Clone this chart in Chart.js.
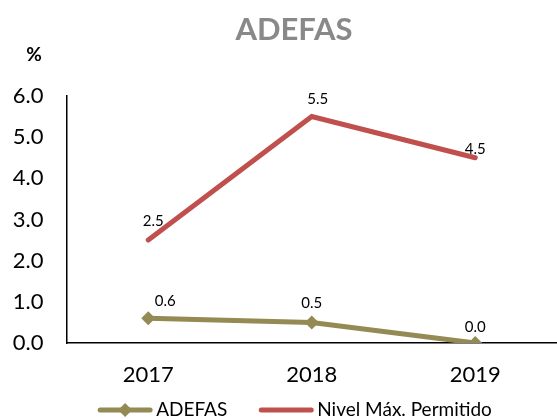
<!DOCTYPE html>
<html><head><meta charset="utf-8">
<script src="https://cdn.jsdelivr.net/npm/chart.js@4"></script>
<style>html,body{margin:0;padding:0;background:#fff;overflow:hidden}#wrap{width:557px;height:419px}</style>
</head><body><div id="wrap"><canvas id="c"></canvas></div>
<script>
const categories = ['2017', '2018', '2019'];
const adefasValues = [0.6, 0.5, 0.0];
const nivelValues = [2.5, 5.5, 4.5];
const seriesNames = ['ADEFAS', 'Nivel Máx. Permitido'];
const chartTitle = 'ADEFAS';
const unitLabel = '%';

const OLIVE = '#948A54', RED = '#C0504D';
const FONT = 'Lato, "Open Sans", sans-serif';

const extras = {
  id: 'extras',
  afterDraw(chart) {
    const ctx = chart.ctx;
    ctx.save();
    // title
    ctx.fillStyle = '#898989';
    ctx.font = 'bold 31px ' + FONT;
    ctx.textAlign = 'center'; ctx.textBaseline = 'middle';
    ctx.fillText(chartTitle, 294, 30);
    // unit
    ctx.fillStyle = '#000';
    ctx.font = 'bold 19px ' + FONT;
    ctx.fillText(unitLabel, 34, 55);
    // data labels
    ctx.font = '15px ' + FONT;
    chart.data.datasets.forEach((ds, di) => {
      const meta = chart.getDatasetMeta(di);
      meta.data.forEach((pt, i) => {
        const off = ds.labelOffsets[i];
        ctx.fillText(ds.data[i].toFixed(1), pt.x + off[0], pt.y + off[1]);
      });
    });
    // legend
    ctx.font = '19px ' + FONT;
    ctx.textAlign = 'left';
    const iconW = 54, gap = 4, itemGap = 32, cy = 410, cx = 295;
    const widths = chart.data.datasets.map(ds => iconW + gap + ctx.measureText(ds.label).width);
    const total = widths.reduce((a, b) => a + b, 0) + itemGap * (widths.length - 1);
    let x = cx - total / 2;
    chart.data.datasets.forEach((ds, i) => {
      ctx.strokeStyle = ds.borderColor; ctx.lineWidth = 5; ctx.lineCap = 'round';
      ctx.beginPath(); ctx.moveTo(x + 2, cy); ctx.lineTo(x + iconW - 2, cy); ctx.stroke();
      if (ds.pointRadius > 0) {
        const mx = x + iconW / 2, r = ds.pointRadius;
        ctx.fillStyle = ds.borderColor; ctx.beginPath();
        ctx.moveTo(mx, cy - r); ctx.lineTo(mx + r, cy); ctx.lineTo(mx, cy + r); ctx.lineTo(mx - r, cy);
        ctx.closePath(); ctx.fill();
      }
      ctx.fillStyle = '#000';
      ctx.fillText(ds.label, x + iconW + gap, cy);
      x += widths[i] + itemGap;
    });
    ctx.restore();
  }
};

new Chart(document.getElementById('c'), {
  type: 'line',
  data: {
    labels: categories,
    datasets: [
      { label: seriesNames[0], data: adefasValues, borderColor: OLIVE, backgroundColor: OLIVE,
        borderWidth: 5, pointStyle: 'rectRot', pointRadius: 7, pointHoverRadius: 7, pointBorderWidth: 0,
        labelOffsets: [[17, -17], [0, -19], [0, -16]] },
      { label: seriesNames[1], data: nivelValues, borderColor: RED, backgroundColor: RED,
        borderWidth: 5, pointRadius: 0, pointHoverRadius: 0, borderCapStyle: 'round',
        labelOffsets: [[5, -19], [6, -17], [0, -9]] }
    ]
  },
  options: {
    responsive: true, maintainAspectRatio: false, animation: false,
    layout: { autoPadding: false, padding: { top: 96, right: 0, left: 0, bottom: 31 } },
    plugins: {
      title: { display: false }, tooltip: { enabled: false }, legend: { display: false }
    },
    scales: {
      x: {
        offset: true,
        afterFit(scale) { scale.height = 45; scale.paddingLeft = 0; scale.paddingRight = 0; },
        grid: { display: false, drawTicks: false, offset: true },
        border: { color: '#000', width: 1.5 },
        ticks: { color: '#000', font: { family: FONT, size: 22 }, padding: 19 }
      },
      y: {
        min: 0, max: 6,
        afterFit(scale) { scale.width = 66.5; scale.paddingTop = 0; scale.paddingBottom = 0; },
        grid: { display: false, drawOnChartArea: false, drawTicks: true, tickLength: 7, color: '#000' },
        border: { color: '#000', width: 1.5 },
        ticks: { stepSize: 1, color: '#000', font: { family: FONT, size: 22 }, padding: 16,
          callback: v => v.toFixed(1) }
      }
    }
  },
  plugins: [extras]
});
</script></body></html>
